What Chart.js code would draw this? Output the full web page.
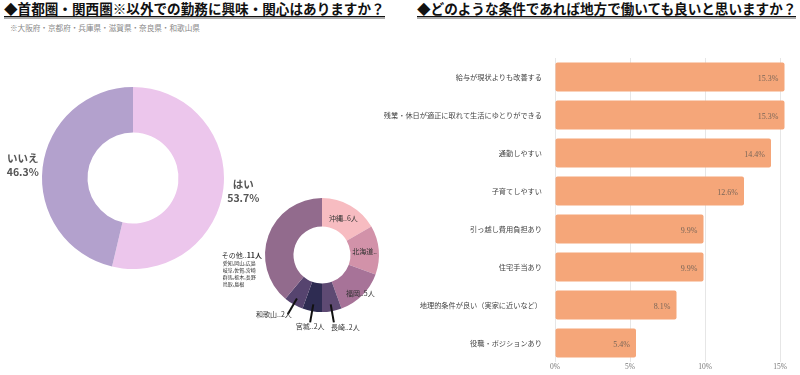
<!DOCTYPE html>
<html lang="ja">
<head>
<meta charset="utf-8">
<script src="https://cdn.jsdelivr.net/npm/chart.js@4.4.1/dist/chart.umd.min.js"></script>
<style>
  body { margin: 0; width: 800px; height: 375px; background: #fff; position: relative; overflow: hidden;
         font-family: "Noto Sans CJK JP", sans-serif; }
  .title { position: absolute; top: 0; font-size: 13.6px; font-weight: bold; color: #111; line-height: 16px;
           border-bottom: 1.5px solid #111; box-shadow: 0 2px 0 #aaa; white-space: nowrap; }
  #t1 { left: 4px; }
  #t2 { left: 417px; }
  #sub { position: absolute; left: 10px; top: 22px; font-size: 7.6px; color: #888; white-space: nowrap; }
  canvas { position: absolute; }
  #pieMain { left: 0; top: 70px; }
  #pieSub { left: 200px; top: 185px; }
  #bars { left: 375px; top: 40px; }
</style>
</head>
<body>
<div class="title" id="t1">◆首都圏・関西圏※以外での勤務に興味・関心はありますか？</div>
<div id="sub">※大阪府・京都府・兵庫県・滋賀県・奈良県・和歌山県</div>
<div class="title" id="t2">◆どのような条件であれば地方で働いても良いと思いますか？</div>

<canvas id="pieMain" width="300" height="216"></canvas>
<canvas id="pieSub" width="200" height="150"></canvas>
<canvas id="bars" width="425" height="335"></canvas>

<script>
// 首都圏・関西圏以外での勤務への興味
const answerLabels = ["はい", "いいえ"];
const answerShares = [53.7, 46.3];
const answerColors = ["#ECC6EC", "#B3A1CD"];

// 興味ありの人の希望地
const prefLabels = ["沖縄..6人", "北海道..", "福岡..5人", "長崎..2人", "宮城..2人", "和歌山..2人", "その他..11人"];
const prefValues = [6, 5, 5, 2, 2, 2, 14];
const prefColors = ["#F7BCC1", "#D292A9", "#A77398", "#5E4A73", "#2E2C52", "#56446F", "#926B8D"];
const otherNote = ["愛知,岡山,広島", "岐阜,佐賀,宮崎", "群馬,栃木,長野", "鳥取,島根"];

// 地方で働く条件
const conditions = [
  "給与が現状よりも改善する",
  "残業・休日が適正に取れて生活にゆとりができる",
  "通勤しやすい",
  "子育てしやすい",
  "引っ越し費用負担あり",
  "住宅手当あり",
  "地理的条件が良い（実家に近いなど）",
  "役職・ポジションあり"
];
const conditionShares = [15.3, 15.3, 14.4, 12.6, 9.9, 9.9, 8.1, 5.4];
const shareTicks = [0, 5, 10, 15];

Chart.defaults.font.family = '"Noto Sans CJK JP", sans-serif';
Chart.defaults.plugins.legend.display = false;
Chart.defaults.plugins.tooltip.enabled = false;
Chart.defaults.animation = false;

const cjk = '"Noto Sans CJK JP", sans-serif';

// 大きいドーナツ
new Chart(document.getElementById("pieMain"), {
  type: "doughnut",
  data: {
    labels: answerLabels,
    datasets: [{ data: answerShares, backgroundColor: answerColors, borderWidth: 0 }]
  },
  options: {
    responsive: false,
    devicePixelRatio: 1,
    cutout: "50%",
    layout: { padding: { left: 42, right: 76, top: 17, bottom: 17 } },
  },
  plugins: [{
    id: "mainLabels",
    afterDatasetsDraw(chart) {
      const ctx = chart.ctx;
      const meta = chart.getDatasetMeta(0);
      ctx.save();
      ctx.fillStyle = "#555";
      ctx.font = "bold 10.5px " + cjk;
      ctx.textAlign = "center";
      ctx.textBaseline = "middle";
      meta.data.forEach((arc, i) => {
        const mid = (arc.startAngle + arc.endAngle) / 2;
        const r = arc.outerRadius + 20;
        const x = arc.x + Math.cos(mid) * r;
        const y = arc.y + Math.sin(mid) * r;
        ctx.fillText(answerLabels[i], x, y - 7);
        ctx.fillText(answerShares[i] + "%", x, y + 7);
      });
      ctx.restore();
    }
  }]
});

// 小さいドーナツ
const outsideStyle = {
  3: { align: "left", dx: -3, dy: 5 },
  4: { align: "center", dx: 0, dy: 4 },
  5: { align: "right", dx: 4, dy: 0 }
};
const insideR = [0.75, 0.75, 0.95];

new Chart(document.getElementById("pieSub"), {
  type: "doughnut",
  data: {
    labels: prefLabels,
    datasets: [{ data: prefValues, backgroundColor: prefColors, borderWidth: 0 }]
  },
  options: {
    responsive: false,
    devicePixelRatio: 1,
    cutout: "50%",
    layout: { padding: { left: 65, right: 21, top: 13, bottom: 23 } },
  },
  plugins: [{
    id: "subLabels",
    afterDatasetsDraw(chart) {
      const ctx = chart.ctx;
      const meta = chart.getDatasetMeta(0);
      ctx.save();
      ctx.fillStyle = "#333";
      ctx.textBaseline = "middle";
      meta.data.forEach((arc, i) => {
        const mid = (arc.startAngle + arc.endAngle) / 2;
        const R = arc.outerRadius;
        if (i < 3) {
          const r = R * insideR[i];
          ctx.font = "7px " + cjk;
          ctx.textAlign = "center";
          ctx.fillText(prefLabels[i], arc.x + Math.cos(mid) * r, arc.y + Math.sin(mid) * r);
        } else if (outsideStyle[i]) {
          const s = outsideStyle[i];
          const x1 = arc.x + Math.cos(mid) * R * 0.88, y1 = arc.y + Math.sin(mid) * R * 0.88;
          const x2 = arc.x + Math.cos(mid) * R * 1.2, y2 = arc.y + Math.sin(mid) * R * 1.2;
          ctx.strokeStyle = "#111";
          ctx.lineWidth = 2;
          ctx.beginPath();
          ctx.moveTo(x1, y1);
          ctx.lineTo(x2, y2);
          ctx.stroke();
          ctx.font = "7px " + cjk;
          ctx.textAlign = s.align;
          ctx.fillText(prefLabels[i], x2 + s.dx, y2 + s.dy);
        } else {
          // その他
          const right = arc.x - R - 3;
          const parts = prefLabels[i].split("..");
          ctx.textAlign = "left";
          ctx.font = "bold 7px " + cjk;
          const w2 = ctx.measureText(parts[1]).width;
          ctx.font = "7px " + cjk;
          const w1 = ctx.measureText(parts[0] + "..").width;
          const left = right - w1 - w2;
          ctx.fillText(parts[0] + "..", left, arc.y);
          ctx.font = "bold 7px " + cjk;
          ctx.fillText(parts[1], left + w1, arc.y);
          ctx.font = "5px " + cjk;
          otherNote.forEach((line, k) => ctx.fillText(line, left + 1, arc.y + 8 + k * 7));
        }
      });
      ctx.restore();
    }
  }]
});

// 横棒グラフ
new Chart(document.getElementById("bars"), {
  type: "bar",
  data: {
    labels: conditions,
    datasets: [{
      data: conditionShares,
      backgroundColor: "#F5A679",
      borderRadius: 2,
      borderSkipped: false,
      barPercentage: 0.76,
      categoryPercentage: 1
    }]
  },
  options: {
    responsive: false,
    devicePixelRatio: 1,
    indexAxis: "y",
    layout: { padding: { top: 18, right: 14, left: 0, bottom: 0 } },
    scales: {
      x: {
        min: 0,
        max: 15.4,
        afterBuildTicks: (s) => { s.ticks = shareTicks.map(v => ({ value: v })); },
        afterFit: (s) => { s.height = 13; },
        ticks: {
          callback: (v) => v + "%",
          font: { family: '"Liberation Serif", serif', size: 7.5 },
          color: "#777",
          padding: 1
        },
        grid: { color: "#e6e6e6", drawTicks: false },
        border: { display: false }
      },
      y: {
        afterFit: (s) => { s.width = 180; },
        ticks: { font: { size: 7.2 }, color: "#444", padding: 5 },
        grid: { display: false },
        border: { display: false }
      }
    }
  },
  plugins: [{
    id: "barValues",
    afterDatasetsDraw(chart) {
      const ctx = chart.ctx;
      const meta = chart.getDatasetMeta(0);
      ctx.save();
      ctx.fillStyle = "#7a6658";
      ctx.font = '8px "Liberation Serif", serif';
      ctx.textAlign = "right";
      ctx.textBaseline = "middle";
      meta.data.forEach((bar, i) => {
        ctx.fillText(conditionShares[i] + "%", bar.x - 6, bar.y + 2);
      });
      ctx.restore();
    }
  }]
});
</script>
</body>
</html>
